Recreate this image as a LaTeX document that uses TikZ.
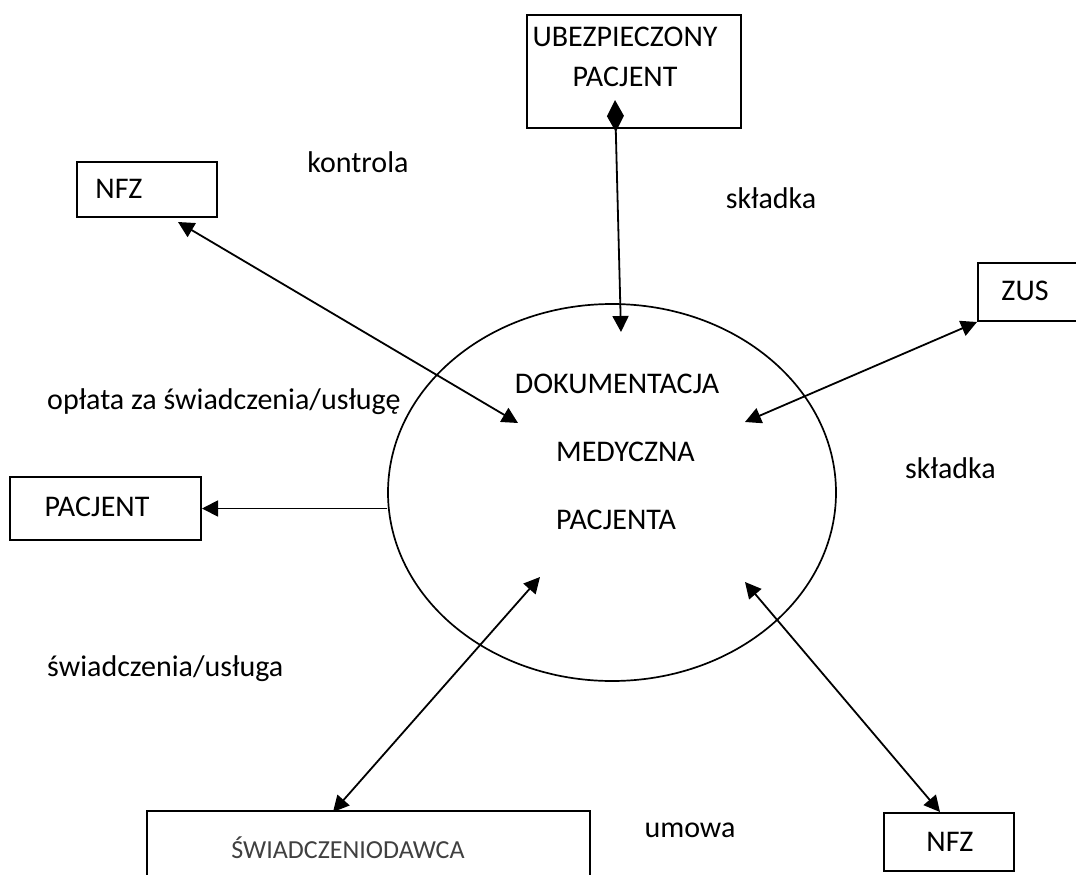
\documentclass[tikz,border=0pt]{standalone}
\usepackage{fontspec}
\setmainfont{Carlito}
\usetikzlibrary{arrows.meta,shapes.geometric}

\begin{document}
\begin{tikzpicture}[x=1pt,y=-1pt,
	box/.style={draw, line width=2pt, inner sep=0pt},
	txt/.style={inner sep=0pt, font=\fontsize{30}{35}\selectfont},
	both/.style={line width=1.8pt, {Triangle[length=16pt,width=16pt]}-{Triangle[length=16pt,width=16pt]}},
	flow/.style={line width=1.8pt, -{Triangle[length=16pt,width=16pt]}}]
	\useasboundingbox (0,0) rectangle (1076,875);
	\clip (0,0) rectangle (1076,875);
	% centre
	\node[box, line width=1.7pt, ellipse, minimum width=448pt, minimum height=377pt] (dok) at (612,492.5) {};
	\node[txt] (tDok) at (617,384) {DOKUMENTACJA};
	\node[txt, anchor=west] (tMed) at (556,452) {MEDYCZNA};
	\node[txt, anchor=west] (tPacj) at (556,520) {PACJENTA};
	% boxes
	\node[box, minimum width=214pt, minimum height=113pt] (ubez) at (634,71.5) {};
	\node[box, minimum width=140pt, minimum height=55pt] (nfzA) at (147,189.5) {};
	\node[box, minimum width=122pt, minimum height=58pt] (zus) at (1039,292) {};
	\node[box, minimum width=191pt, minimum height=63pt] (pac) at (105.5,508.5) {};
	\node[box, minimum width=130pt, minimum height=58pt] (nfzB) at (949,842) {};
	\node[box, minimum width=443pt, minimum height=89pt] (swd) at (368.5,855.5) {};
	\node[txt] (tUbez) at (625,37) {UBEZPIECZONY};
	\node[txt] (tUbezP) at (625,77) {PACJENT};
	\node[txt] (tNfzA) at (119,189) {NFZ};
	\node[txt] (tZus) at (1025,291) {ZUS};
	\node[txt] (tPac) at (97,507) {PACJENT};
	\node[txt] (tNfzB) at (950,842) {NFZ};
	\node[txt, font=\fontsize{26}{30}\selectfont, text=black!75] (tSwd) at (348,848) {ŚWIADCZENIODAWCA};
	% labels
	\node[txt] (lKontr) at (358,162) {kontrola};
	\node[txt] (lSklA) at (771,198) {składka};
	\node[txt, anchor=west] (lOpl) at (47,402) {opłata za świadczenia/usługę};
	\node[txt, anchor=west] (lSklB) at (905,468) {składka};
	\node[txt, anchor=west] (lSwi) at (47,669) {świadczenia/usługa};
	\node[txt] (lUmowa) at (690,830) {umowa};
	% connectors
	\coordinate (ubTip) at (615,100);
	\coordinate (dokN) at (621,332);
	\coordinate (dokNW) at (518,423);
	\coordinate (dokNE) at (745,422);
	\coordinate (dokSW) at (540,577);
	\coordinate (dokSE) at (745,582);
	\coordinate (nfzAtip) at (178,222);
	\coordinate (zusTip) at (977,322);
	\coordinate (swdTip) at (333,812);
	\coordinate (nfzBtip) at (940,812);
	\draw[line width=1.8pt, {Diamond[length=32pt,width=17pt]}-{Triangle[length=16pt,width=16pt]}] (ubTip) -- (dokN);
	\draw[both] (nfzAtip) -- (dokNW);
	\draw[both] (dokNE) -- (zusTip);
	\draw[flow] (pac.east -| dok.west) -- (pac.east);
	\draw[both] (dokSW) -- (swdTip);
	\draw[both] (dokSE) -- (nfzBtip);
\end{tikzpicture}
\end{document}
